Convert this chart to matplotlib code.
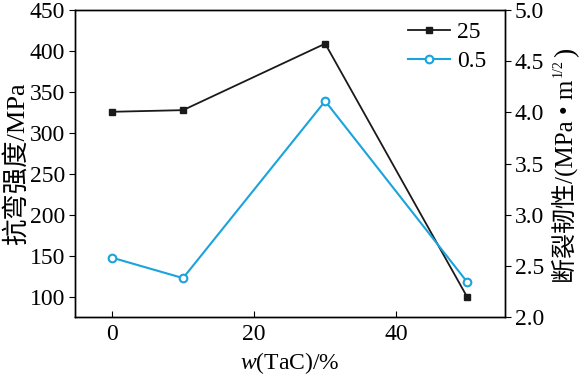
import matplotlib
matplotlib.use('agg')
import matplotlib.pyplot as plt

plt.rcParams['font.family'] = ['Liberation Serif', 'Noto Sans CJK SC', 'DejaVu Sans']
plt.rcParams['mathtext.fontset'] = 'custom'
plt.rcParams['mathtext.rm'] = 'Liberation Serif'
plt.rcParams['mathtext.it'] = 'Liberation Serif:italic'

tac = [0, 10, 30, 50]
strength = [326, 328, 409, 100]
toughness = [2.58, 2.38, 4.11, 2.34]
xticks = [0, 20, 40]
lticks = [100, 150, 200, 250, 300, 350, 400, 450]
rticks = [2.0, 2.5, 3.0, 3.5, 4.0, 4.5, 5.0]

W, H = 580, 378
fig = plt.figure(figsize=(5.8, 3.78), dpi=100)
ax = fig.add_axes([75/W, 1-317/H, 430/W, 307/H])
ax2 = ax.twinx()

l1, = ax.plot(tac, strength, color='#1a1a1a', lw=1.3, marker='s', ms=5, label='25')
l2, = ax2.plot(tac, toughness, color='#1aa3dd', lw=1.5, marker='o', ms=5.5,
               mfc='white', mec='#1aa3dd', mew=1.5, label='0.5')

ax.set_xlim(-5.2, 55.3)
ax.set_ylim(76, 450)
ax2.set_ylim(2.0, 5.0)
ax.set_xticks(xticks)
ax.set_yticks(lticks)
ax2.set_yticks(rticks)
ax2.set_yticklabels(['%.1f' % v for v in rticks])

ax.tick_params(axis='x', direction='in', length=4, labelsize=17, pad=5)
ax.tick_params(axis='y', direction='out', length=4, labelsize=17, pad=3)
ax2.tick_params(axis='y', direction='out', length=4, labelsize=17, pad=3)

ax.set_xlabel('$w$(TaC)/%', fontsize=17, labelpad=4)

# left label
fig.text(24/W, 1-164/H, '抗弯强度/MPa', fontsize=19, rotation=90,
         rotation_mode='anchor', ha='center', va='baseline')

# right label: plain part, then the 1/2 superscript and closing bracket
rl = fig.text(573/W, 1-283/H, '断裂韧性/(MPa • m', fontsize=18, rotation=90,
              rotation_mode='anchor', ha='left', va='baseline')
fig.canvas.draw()
top = rl.get_window_extent().transformed(fig.transFigure.inverted()).y1
sup = fig.text(562/W, top + 3/H, '1/2', fontsize=10, rotation=90,
               rotation_mode='anchor', ha='left', va='baseline')
fig.canvas.draw()
top2 = sup.get_window_extent().transformed(fig.transFigure.inverted()).y1
fig.text(573/W, top2 + 2/H, ')', fontsize=20, rotation=90,
         rotation_mode='anchor', ha='left', va='baseline')

for a in (ax, ax2):
    for s in a.spines.values():
        s.set_linewidth(1.0)

ax.legend(handles=[l1, l2], loc='upper right', frameon=False, fontsize=17,
          handlelength=1.8, handletextpad=0.3, borderaxespad=0.1, labelspacing=0.3,
          bbox_to_anchor=(0.985, 1.0))

fig.savefig('out.png', dpi=100, facecolor='white')
